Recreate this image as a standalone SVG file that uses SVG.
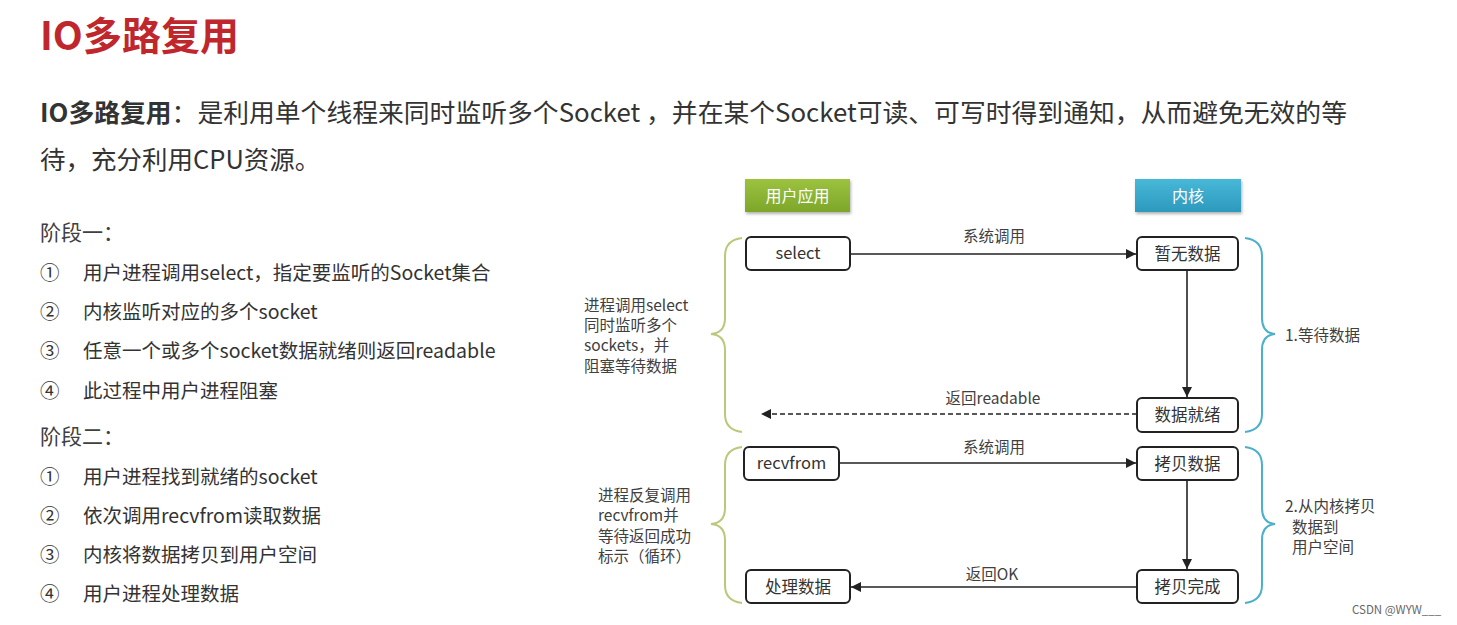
<svg xmlns="http://www.w3.org/2000/svg" width="1457" height="625" viewBox="0 0 1457 625">
<style>
.t{font-family:"Noto Sans CJK SC","Noto Sans",sans-serif;fill:#333}
.title{font-size:39px;font-weight:bold;fill:#c0272d}
.para{font-size:25.5px}
.h{font-size:21px;fill:#404040}
.li{font-size:19.5px;fill:#333}
.dl{font-size:15.5px;fill:#404040}
.bx{font-size:16.5px;fill:#333;text-anchor:middle}
.box{fill:#fff;stroke:#222;stroke-width:2}
.con{stroke:#222;stroke-width:1.6;fill:none}
.gb{fill:none;stroke:#b9c97a;stroke-width:2}
.bb{fill:none;stroke:#4bb0cc;stroke-width:2}
.hdr{font-size:16px;fill:#fff;text-anchor:middle}
</style>
<defs>
<marker id="ah2" viewBox="0 0 10 10" refX="10" refY="5" markerWidth="10" markerHeight="10" markerUnits="userSpaceOnUse" orient="auto"><path d="M0,0L10,5L0,10z" fill="#222"/></marker>
<linearGradient id="gg" x1="0" y1="0" x2="0" y2="1"><stop offset="0" stop-color="#9cc23f"/><stop offset="1" stop-color="#7da62a"/></linearGradient>
<linearGradient id="bg" x1="0" y1="0" x2="0" y2="1"><stop offset="0" stop-color="#48b8d8"/><stop offset="1" stop-color="#2c99bd"/></linearGradient>
<filter id="sh" x="-10%" y="-20%" width="130%" height="150%"><feDropShadow dx="1" dy="2" stdDeviation="1.5" flood-color="#000" flood-opacity="0.3"/></filter>
</defs>
<rect width="1457" height="625" fill="#fff"/>

<text class="t title" x="40" y="50">IO多路复用</text>
<text class="t para" x="40" y="122" textLength="1307" lengthAdjust="spacingAndGlyphs"><tspan font-weight="bold">IO多路复用</tspan>：是利用单个线程来同时监听多个Socket ，并在某个Socket可读、可写时得到通知，从而避免无效的等</text>
<text class="t para" x="40" y="169">待，充分利用CPU资源。</text>

<text class="t h" x="40" y="240">阶段一：</text>
<text class="t li" x="40" y="280">①</text><text class="t li" x="83" y="280">用户进程调用select，指定要监听的Socket集合</text>
<text class="t li" x="40" y="319">②</text><text class="t li" x="83" y="319">内核监听对应的多个socket</text>
<text class="t li" x="40" y="358">③</text><text class="t li" x="83" y="358">任意一个或多个socket数据就绪则返回readable</text>
<text class="t li" x="40" y="398">④</text><text class="t li" x="83" y="398">此过程中用户进程阻塞</text>
<text class="t h" x="40" y="444">阶段二：</text>
<text class="t li" x="40" y="484">①</text><text class="t li" x="83" y="484">用户进程找到就绪的socket</text>
<text class="t li" x="40" y="523">②</text><text class="t li" x="83" y="523">依次调用recvfrom读取数据</text>
<text class="t li" x="40" y="562">③</text><text class="t li" x="83" y="562">内核将数据拷贝到用户空间</text>
<text class="t li" x="40" y="601">④</text><text class="t li" x="83" y="601">用户进程处理数据</text>

<g id="hdr-user"><rect x="745" y="179" width="105" height="33" fill="url(#gg)" filter="url(#sh)"/><text class="t hdr" x="797.5" y="201.5">用户应用</text></g>
<g id="hdr-kernel"><rect x="1135" y="179" width="106" height="33" fill="url(#bg)" filter="url(#sh)"/><text class="t hdr" x="1188" y="201.5">内核</text></g>

<g id="n-select"><rect class="box" x="746" y="237" width="104" height="33" rx="5"/><text class="t bx" x="798" y="259">select</text></g>
<g id="n-nodata"><rect class="box" x="1137" y="237" width="101" height="33" rx="5"/><text class="t bx" x="1187.5" y="260">暂无数据</text></g>
<g id="n-ready"><rect class="box" x="1137" y="398" width="101" height="34" rx="5"/><text class="t bx" x="1187.5" y="421">数据就绪</text></g>
<g id="n-recvfrom"><rect class="box" x="744" y="447" width="95" height="33" rx="5"/><text class="t bx" x="791.5" y="469">recvfrom</text></g>
<g id="n-copy"><rect class="box" x="1137" y="447" width="101" height="33" rx="5"/><text class="t bx" x="1187.5" y="470">拷贝数据</text></g>
<g id="n-process"><rect class="box" x="746" y="570" width="104" height="33" rx="5"/><text class="t bx" x="798" y="593">处理数据</text></g>
<g id="n-copied"><rect class="box" x="1137" y="570" width="101" height="33" rx="5"/><text class="t bx" x="1187.5" y="593">拷贝完成</text></g>

<g id="connectors">
<line class="con" x1="850" y1="254" x2="1136" y2="254" marker-end="url(#ah2)"/>
<text class="t dl" x="994" y="242" text-anchor="middle">系统调用</text>
<line class="con" x1="1187" y1="270" x2="1187" y2="397" marker-end="url(#ah2)"/>
<line class="con" x1="1137" y1="414" x2="761" y2="414" stroke-dasharray="5,3" marker-end="url(#ah2)"/>
<text class="t dl" x="993" y="404" text-anchor="middle">返回readable</text>
<line class="con" x1="839" y1="463" x2="1136" y2="463" marker-end="url(#ah2)"/>
<text class="t dl" x="994" y="453" text-anchor="middle">系统调用</text>
<line class="con" x1="1187" y1="480" x2="1187" y2="569" marker-end="url(#ah2)"/>
<line class="con" x1="1137" y1="587" x2="851" y2="587" marker-end="url(#ah2)"/>
<text class="t dl" x="992" y="580" text-anchor="middle">返回OK</text>
</g>

<g id="brace-l1">
<path class="gb" d="M742,238 Q725,240 725,256 L725,318 Q725,333 711,334 Q725,335 725,350 L725,414 Q725,430 742,432"/>
<text class="t dl" x="584" y="311">进程调用select</text>
<text class="t dl" x="584" y="331">同时监听多个</text>
<text class="t dl" x="584" y="351">sockets，并</text>
<text class="t dl" x="584" y="372">阻塞等待数据</text>
</g>
<g id="brace-r1">
<path class="bb" d="M1245,238 Q1262,240 1262,256 L1262,318 Q1262,333 1275,334 Q1262,335 1262,350 L1262,414 Q1262,430 1245,432"/>
<text class="t dl" x="1285" y="341">1.等待数据</text>
</g>
<g id="brace-l2">
<path class="gb" d="M742,447 Q725,449 725,465 L725,508 Q725,523 711,524 Q725,525 725,540 L725,585 Q725,601 742,603"/>
<text class="t dl" x="598" y="501">进程反复调用</text>
<text class="t dl" x="598" y="521">recvfrom并</text>
<text class="t dl" x="598" y="542">等待返回成功</text>
<text class="t dl" x="598" y="562">标示（循环）</text>
</g>
<g id="brace-r2">
<path class="bb" d="M1245,447 Q1262,449 1262,465 L1262,508 Q1262,523 1275,524 Q1262,525 1262,540 L1262,585 Q1262,601 1245,603"/>
<text class="t dl" x="1285" y="512">2.从内核拷贝</text>
<text class="t dl" x="1292" y="533">数据到</text>
<text class="t dl" x="1292" y="553">用户空间</text>
</g>
<text class="t" x="1352" y="614" font-size="11.5" style="fill:#666">CSDN @WYW___</text>
</svg>
